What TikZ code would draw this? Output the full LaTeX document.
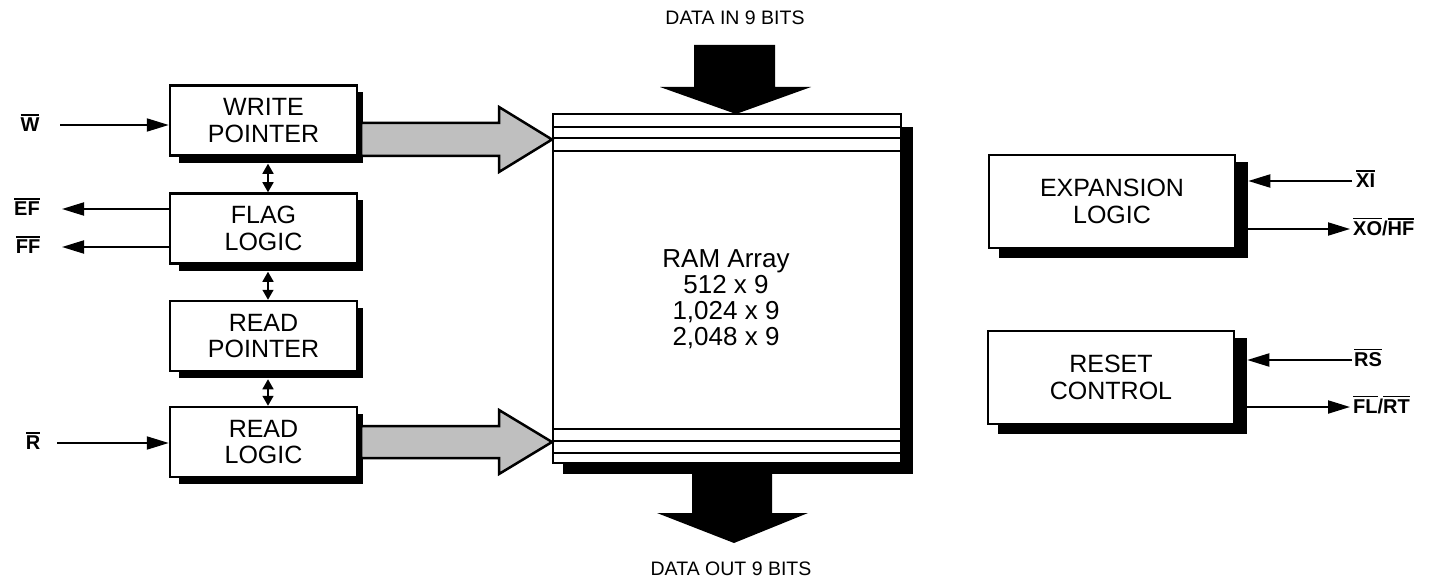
\documentclass[tikz,border=0pt]{standalone}
\usepackage{fontspec}
\setmainfont{Liberation Sans}
\usetikzlibrary{arrows.meta,backgrounds}
\newcommand\ovl[1]{\leavevmode\vbox{\hrule height 1.6bp\kern 2.6bp\hbox{#1}}}
\begin{document}
\begin{tikzpicture}[x=1bp,y=-1bp,
  blk/.style={draw,line width=2.5bp,fill=white,inner sep=0pt,align=center,
    font=\fontsize{25bp}{26.5bp}\selectfont},
  lbox/.style={blk,minimum width=187bp,minimum height=70bp},
  rbox/.style={blk,minimum width=246bp,minimum height=93bp},
  sig/.style={line width=2bp,-{Triangle[length=22bp,width=13bp]}},
  dbl/.style={line width=1.6bp,{Triangle[length=10bp,width=11bp]}-{Triangle[length=10bp,width=11bp]}},
  siglbl/.style={inner sep=0pt,font=\fontsize{20bp}{22bp}\selectfont\bfseries},
  grayarr/.style={draw,line width=2.5bp,fill=black!25,line join=miter},
  blackarr/.style={fill=black},
  datalbl/.style={inner sep=0pt,font=\fontsize{19.5bp}{20bp}\selectfont},
  band/.style={line width=2.2bp}]
\useasboundingbox (0,0) rectangle (1455,585);

% RAM array
\node[draw,line width=2bp,fill=white,minimum width=348bp,minimum height=349bp,inner sep=0pt] (ram) at (727,288.5) {};
\node[inner sep=0pt,align=center,font=\fontsize{26bp}{26bp}\selectfont] (ramtxt) at (726,299) {RAM Array\\512 x 9\\1,024 x 9\\2,048 x 9};
\foreach \yy in {127,138,151,429,441,453}{
  \draw[band] (ram.west |- 0,\yy) -- (ram.east |- 0,\yy);
}

% left column boxes
\node[lbox] (wp) at (263.5,120.5) {WRITE\\POINTER};
\node[lbox] (fl) at (263.5,228.5) {FLAG\\LOGIC};
\node[lbox] (rp) at (263.5,336) {READ\\POINTER};
\node[lbox] (rl) at (263.5,442) {READ\\LOGIC};

% right boxes
\node[rbox] (xl) at (1112,201.5) {EXPANSION\\LOGIC};
\node[rbox] (rc) at (1111,377.5) {RESET\\CONTROL};

% shadows
\begin{scope}[on background layer]
  \foreach \n in {wp,fl,rp,rl}{
    \fill ([xshift=10bp,yshift=-8bp]\n.north west) rectangle ([xshift=5bp,yshift=-6bp]\n.south east);
  }
  \foreach \n in {xl,rc}{
    \fill ([xshift=11bp,yshift=-8bp]\n.north west) rectangle ([xshift=12bp,yshift=-9bp]\n.south east);
  }
  \fill ([xshift=11bp,yshift=-14bp]ram.north west) rectangle ([xshift=11bp,yshift=-10bp]ram.south east);
\end{scope}

% gray arrows into RAM
\coordinate (wtip) at (ram.west |- 0,139.5);
\coordinate (rtip) at (ram.west |- 0,442);
\draw[grayarr] (wtip) -- ++(-53,-32.5) -- ++(0,16) -- ++(-138,0) -- ++(0,33) -- ++(138,0) -- ++(0,16) -- cycle;
\draw[grayarr] (rtip) -- ++(-53,-32) -- ++(0,16) -- ++(-138,0) -- ++(0,32) -- ++(138,0) -- ++(0,16) -- cycle;

% data in / out arrows
\node[datalbl] (din) at (735,18) {DATA IN 9 BITS};
\node[datalbl] (dout) at (731,569) {DATA OUT 9 BITS};
\coordinate (dintip) at (736,114);
\fill[blackarr] (dintip) -- ++(-76,-27) -- ++(34,0) -- ++(0,-42) -- ++(81,0) -- ++(0,42) -- ++(36,0) -- cycle;
\coordinate (douttip) at (734,543);
\fill[blackarr] (douttip) -- ++(-77,-30) -- ++(35,0) -- ++(0,-41) -- ++(80,0) -- ++(0,41) -- ++(36,0) -- cycle;

% signals left
\node[siglbl] (w) at (30,123) {\ovl{W}};
\node[siglbl] (ef) at (27,207) {\ovl{EF}};
\node[siglbl] (ff) at (28,245) {\ovl{FF}};
\node[siglbl] (r) at (33,441) {\ovl{R}};
\coordinate (win) at (60,125);
\coordinate (efout) at (62,209);
\coordinate (ffout) at (62,247);
\coordinate (rin) at (57,443);
\draw[sig] (win) -- (win -| wp.west);
\draw[sig] (efout -| fl.west) -- (efout);
\draw[sig] (ffout -| fl.west) -- (ffout);
\draw[sig] (rin) -- (rin -| rl.west);

% double arrows between boxes
\draw[dbl] ([xshift=4.5bp,yshift=-7bp]wp.south) -- ([xshift=4.5bp]fl.north);
\draw[dbl] ([xshift=4.5bp,yshift=-7bp]fl.south) -- ([xshift=4.5bp]rp.north);
\draw[dbl] ([xshift=4.5bp,yshift=-7bp]rp.south) -- ([xshift=4.5bp]rl.north);

% signals right
\node[siglbl,anchor=west] (xi) at (1356,179) {\ovl{XI}};
\node[siglbl,anchor=west] (xo) at (1353,227) {\ovl{XO}/\ovl{HF}};
\node[siglbl,anchor=west] (rs) at (1354,358) {\ovl{RS}};
\node[siglbl,anchor=west] (flrt) at (1353,405) {\ovl{FL}/\ovl{RT}};
\coordinate (xiin) at (1352,181);
\coordinate (xoout) at (1350,229);
\coordinate (rsin) at (1352,360);
\coordinate (flout) at (1350,407);
\draw[sig] (xiin) -- ([xshift=12bp]xiin -| xl.east);
\draw[sig] ([xshift=12bp]xoout -| xl.east) -- (xoout);
\draw[sig] (rsin) -- ([xshift=12bp]rsin -| rc.east);
\draw[sig] ([xshift=12bp]flout -| rc.east) -- (flout);
\end{tikzpicture}
\end{document}
